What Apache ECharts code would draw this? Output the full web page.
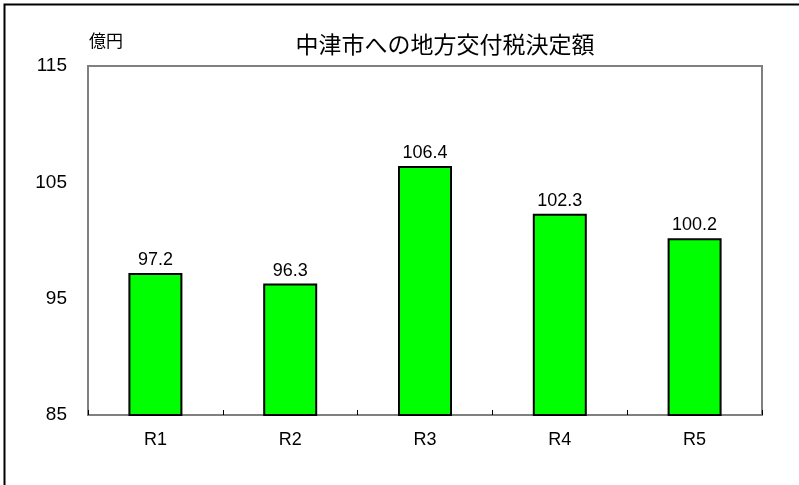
<!DOCTYPE html>
<html>
<head>
<meta charset="utf-8">
<script src="https://cdn.jsdelivr.net/npm/echarts@6/dist/echarts.min.js"></script>
<style>
html,body{margin:0;padding:0;background:#fff;}
#chart{width:799px;height:485px;}
</style>
</head>
<body>
<div id="chart"></div>
<script>
// 年度
var categories = ["R1", "R2", "R3", "R4", "R5"];
// 決定額（億円）
var values = [97.2, 96.3, 106.4, 102.3, 100.2];
var yMin = 85;
var yMax = 115;
var yStep = 10;

var myChart = echarts.init(document.getElementById("chart"));
var font = "'Liberation Sans', Arial, 'Noto Sans CJK JP', sans-serif";

myChart.setOption({
  animation: false,
  textStyle: { fontFamily: font },
  title: {
    text: "中津市への地方交付税決定額",
    left: 440,
    textAlign: "center",
    top: 28,
    textStyle: {
      fontSize: 23,
      fontWeight: "normal",
      color: "#000",
      fontFamily: "'Noto Sans CJK JP', sans-serif"
    }
  },
  graphic: [
    {
      // 外枠
      type: "rect",
      shape: { x: 4.5, y: 4.5, width: 820, height: 520 },
      style: { fill: "none", stroke: "#000", lineWidth: 2 },
      silent: true
    },
    {
      type: "text",
      left: 89,
      top: 32,
      style: {
        text: "億円",
        fontSize: 17,
        fill: "#000",
        fontFamily: "'Noto Sans CJK JP', sans-serif"
      }
    }
  ],
  grid: {
    left: 88,
    right: 37,
    top: 66,
    bottom: 70,
    show: true,
    borderColor: "#808080",
    borderWidth: 2,
    backgroundColor: "#fff"
  },
  xAxis: {
    type: "category",
    data: categories,
    axisLine: { show: true, lineStyle: { color: "#808080", width: 2 } },
    axisTick: { show: true, inside: true, length: 5, lineStyle: { color: "#000" } },
    axisLabel: { fontSize: 18, color: "#000", margin: 16 }
  },
  yAxis: {
    type: "value",
    min: yMin,
    max: yMax,
    interval: yStep,
    splitLine: { show: false },
    axisLine: { show: true, lineStyle: { color: "#808080", width: 2 } },
    axisTick: { show: false },
    axisLabel: { fontSize: 19, color: "#000", margin: 21 }
  },
  series: [
    {
      type: "bar",
      data: values,
      barWidth: 54,
      itemStyle: { color: "#00ff00", borderColor: "#000", borderWidth: 2 },
      label: {
        show: true,
        position: "top",
        distance: 4,
        fontSize: 18,
        color: "#000",
        formatter: function (p) { return p.value.toFixed(1); }
      }
    }
  ]
});
</script>
</body>
</html>
